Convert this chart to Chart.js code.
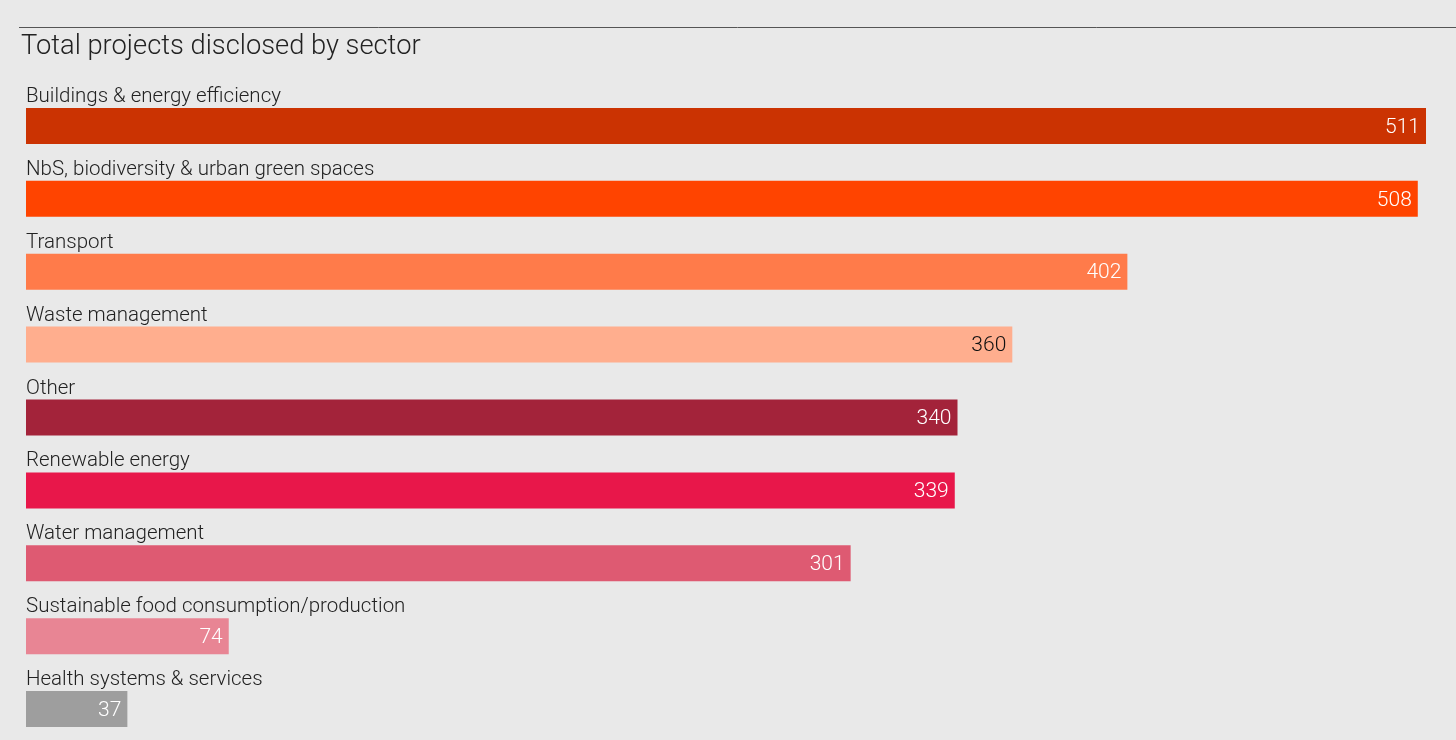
<!DOCTYPE html>
<html>
<head>
<meta charset="utf-8">
<script src="https://cdn.jsdelivr.net/npm/chart.js@4.4.1/dist/chart.umd.min.js"></script>
<style>
    html, body { margin: 0; padding: 0; background: #e9e9e9; overflow: hidden; }
    #wrap { position: relative; width: 1456px; height: 760px; }
</style>
</head>
<body>
<div id="wrap"><canvas id="chart"></canvas></div>
<script>
// Données du graphique
const sectors = [
    'Buildings & energy efficiency',
    'NbS, biodiversity & urban green spaces',
    'Transport',
    'Waste management',
    'Other',
    'Renewable energy',
    'Water management',
    'Sustainable food consumption/production',
    'Health systems & services'
];
const projects = [511, 508, 402, 360, 340, 339, 301, 74, 37];
const barColors = ['#cb3302', '#ff4400', '#ff7b4a', '#ffae8e', '#a3233a', '#e8174a', '#de5a72', '#e88594', '#9e9e9e'];
const valueColors = ['#ffffff', '#ffffff', '#ffffff', '#111111', '#ffffff', '#ffffff', '#ffffff', '#ffffff', '#ffffff'];
const chartTitle = 'Total projects disclosed by sector';

// Plugin pour le titre, la ligne du haut et les étiquettes
const labelsPlugin = {
    id: 'labelsPlugin',
    afterDatasetsDraw(chart) {
        const ctx = chart.ctx;
        const meta = chart.getDatasetMeta(0);
        ctx.save();

        // Ligne du haut
        ctx.strokeStyle = '#555555';
        ctx.lineWidth = 1;
        ctx.beginPath();
        ctx.moveTo(19, 27.5);
        ctx.lineTo(1456, 27.5);
        ctx.stroke();

        // Titre
        ctx.fillStyle = '#222222';
        ctx.font = '300 27.3px Roboto';
        ctx.textAlign = 'left';
        ctx.textBaseline = 'alphabetic';
        ctx.fillText(chartTitle, 21, 53.5);

        meta.data.forEach((bar, i) => {
            const top = bar.y - bar.height / 2;
            // Nom du secteur au-dessus de la barre
            ctx.fillStyle = '#222222';
            ctx.font = '300 20.5px Roboto';
            ctx.textAlign = 'left';
            ctx.textBaseline = 'alphabetic';
            ctx.fillText(sectors[i], 26, top - 6);

            // Valeur à l'intérieur de la barre
            ctx.fillStyle = valueColors[i];
            ctx.font = '300 21px Roboto';
            ctx.textAlign = 'right';
            ctx.textBaseline = 'middle';
            ctx.fillText(String(projects[i]), bar.x - 6, bar.y + 1.5);
        });
        ctx.restore();
    }
};

new Chart(document.getElementById('chart'), {
    type: 'bar',
    data: {
        labels: sectors,
        datasets: [{
            data: projects,
            backgroundColor: barColors,
            borderWidth: 0,
            barPercentage: 36 / 72.9,
            categoryPercentage: 1
        }]
    },
    options: {
        indexAxis: 'y',
        responsive: true,
        maintainAspectRatio: false,
        animation: false,
        layout: {
            padding: { left: 26, right: 30, top: 89.5, bottom: 14.5 }
        },
        scales: {
            x: { display: false, min: 0, max: 511 },
            y: { display: false }
        },
        plugins: {
            legend: { display: false },
            tooltip: { enabled: false }
        }
    },
    plugins: [labelsPlugin]
});
</script>
</body>
</html>
